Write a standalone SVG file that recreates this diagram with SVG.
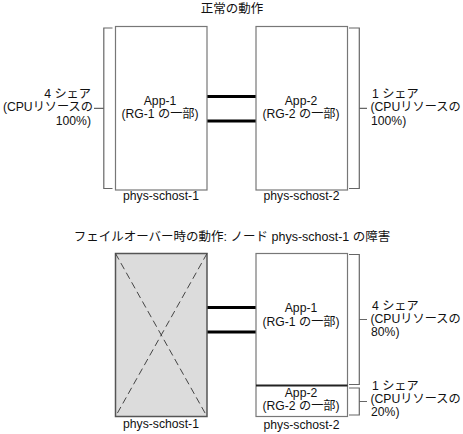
<svg xmlns="http://www.w3.org/2000/svg" width="463" height="434" viewBox="0 0 463 434">
<style>
text{font-family:"Liberation Sans","Noto Sans CJK JP",sans-serif;font-size:12.2px;fill:#111}
.title{font-size:12.5px}
.mid{text-anchor:middle}
.end{text-anchor:end}
.box{fill:#fff;stroke:#777;stroke-width:1.2}
.failed{fill:#dcdcdc;stroke:#555;stroke-width:1.5}
.x{stroke:#444;stroke-width:1;stroke-dasharray:7 4;fill:none}
.br{fill:none;stroke:#666;stroke-width:1.2}
.link{stroke:#000;stroke-width:3}
.div{stroke:#222;stroke-width:2}
</style>
<rect width="463" height="434" fill="#fff"/>
<text class="title mid" x="232" y="13">正常の動作</text>
<text class="title mid" x="232" y="241">フェイルオーバー時の動作: ノード phys-schost-1 の障害</text>

<g id="connectors">
<line class="link" x1="207" y1="96.5" x2="256" y2="96.5"/>
<line class="link" x1="207" y1="121" x2="256" y2="121"/>
<line class="link" x1="207" y1="307.5" x2="256" y2="307.5"/>
<line class="link" x1="207" y1="332" x2="256" y2="332"/>
</g>

<g id="top-node1">
<rect class="box" x="115.5" y="26.5" width="91.5" height="163.5"/>
<text class="mid" x="160" y="104.5">App-1</text>
<text class="mid" x="160" y="118">(RG-1 の一部)</text>
<text class="mid" x="161" y="200">phys-schost-1</text>
</g>
<g id="top-node2">
<rect class="box" x="256" y="26.5" width="91.5" height="163.5"/>
<text class="mid" x="301" y="104.5">App-2</text>
<text class="mid" x="301" y="118">(RG-2 の一部)</text>
<text class="mid" x="301.5" y="200">phys-schost-2</text>
</g>
<g id="top-share1">
<path class="br" d="M112.5,28 H103.8 V188.5 H112.5 M103.8,108.3 H94"/>
<text class="end" x="91" y="98">4 シェア</text>
<text class="end" x="93" y="111">(CPUリソースの</text>
<text class="end" x="91" y="124.5">100%)</text>
</g>
<g id="top-share2">
<path class="br" d="M349,28 H359.3 V188.5 H349 M359.3,108.3 H367"/>
<text x="372" y="98">1 シェア</text>
<text x="370.5" y="111">(CPUリソースの</text>
<text x="371" y="124.5">100%)</text>
</g>

<g id="bottom-node1">
<rect class="failed" x="115.5" y="253.5" width="91.5" height="163"/>
<line class="x" x1="115.5" y1="253.5" x2="207" y2="416.5"/>
<line class="x" x1="207" y1="253.5" x2="115.5" y2="416.5"/>
<text class="mid" x="161" y="428">phys-schost-1</text>
</g>
<g id="bottom-node2">
<rect class="box" x="256" y="253.5" width="91.5" height="163"/>
<line class="div" x1="256" y1="385.5" x2="347.5" y2="385.5"/>
<text class="mid" x="301" y="312">App-1</text>
<text class="mid" x="301" y="325.5">(RG-1 の一部)</text>
<text class="mid" x="301" y="397">App-2</text>
<text class="mid" x="301" y="410">(RG-2 の一部)</text>
<text class="mid" x="301.5" y="428.5">phys-schost-2</text>
</g>
<g id="bottom-share1">
<path class="br" d="M349,254.5 H359.3 V384.5 H349 M359.3,319.5 H367"/>
<text x="372" y="310">4 シェア</text>
<text x="370.5" y="323">(CPUリソースの</text>
<text x="371" y="336">80%)</text>
</g>
<g id="bottom-share2">
<path class="br" d="M349,388 H359.3 V415 H349 M359.3,401.5 H367"/>
<text x="372" y="390">1 シェア</text>
<text x="370.5" y="403">(CPUリソースの</text>
<text x="371" y="416">20%)</text>
</g>
</svg>
